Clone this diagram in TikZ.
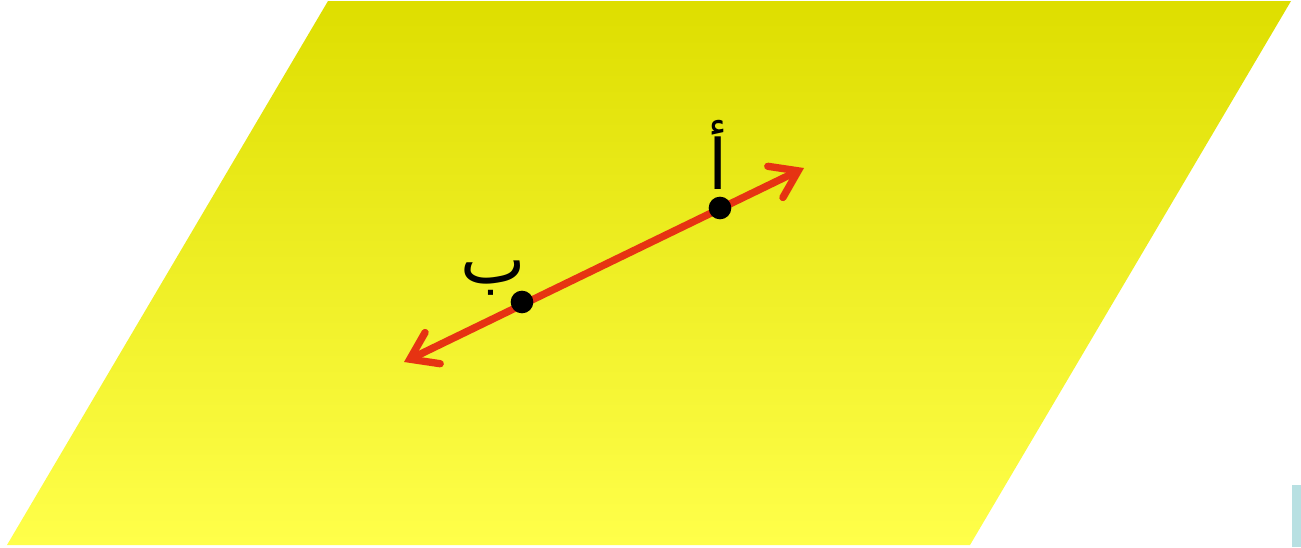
\documentclass[tikz,border=0pt]{standalone}
\usepackage{fontspec}
\usetikzlibrary{arrows.meta}
\TeXXeTstate=1
\newfontfamily\arabicfont[Script=Arabic]{DejaVu Sans}
\definecolor{planetop}{HTML}{DEDE00}
\definecolor{planebot}{HTML}{FFFF4A}
\definecolor{linered}{HTML}{E63312}
\definecolor{barblue}{HTML}{B8E0E2}
\tikzset{
  plane/.style={top color=planetop, bottom color=planebot, draw=none},
  redtip/.tip={Straight Barb[length=19pt, width=26pt, line width=5.5pt, line cap=round]},
  redline/.style={draw=linered, line width=5.5pt, line cap=round, {redtip}-{redtip}},
  pointdot/.style={circle, fill=black, inner sep=0pt, minimum size=17pt},
  lbl/.style={font=\arabicfont\fontsize{52}{56}\selectfont, inner sep=0pt}
}
\begin{document}
\begin{tikzpicture}[x=0.75pt, y=-0.75pt]
\useasboundingbox (0,0) rectangle (1301,547);
\shade[plane] (328,1) -- (1291,1) -- (970,545) -- (7,545) -- cycle;
\fill[barblue] (1292,485) rectangle (1301,547);
\coordinate (s) at (404,362);
\coordinate (e) at (804,168);
\draw[redline] (s) -- (e);
\node[pointdot] (A) at (720,208) {};
\node[pointdot] (B) at (522,302) {};
\node[lbl] (la) at (718,155) {\beginR أ\endR};
\node[lbl] (lb) at (493,278) {\beginR ب\endR};
\end{tikzpicture}
\end{document}
